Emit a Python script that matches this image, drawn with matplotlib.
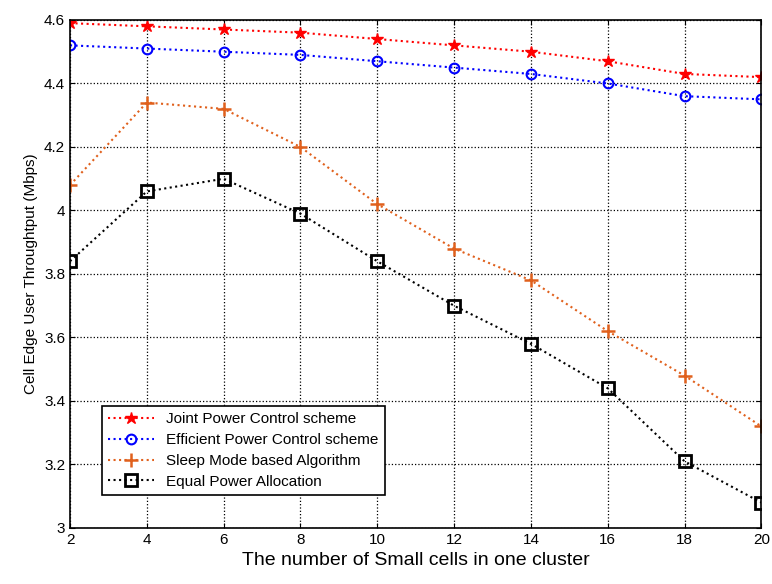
import matplotlib
matplotlib.use("Agg")
from matplotlib import pyplot as plt

plt.rcParams['font.family'] = ['Liberation Sans', 'DejaVu Sans']

x = [2, 4, 6, 8, 10, 12, 14, 16, 18, 20]
joint = [4.59, 4.58, 4.57, 4.56, 4.54, 4.52, 4.50, 4.47, 4.43, 4.42]
efficient = [4.52, 4.51, 4.50, 4.49, 4.47, 4.45, 4.43, 4.40, 4.36, 4.35]
sleep = [4.08, 4.34, 4.32, 4.20, 4.02, 3.88, 3.78, 3.62, 3.48, 3.32]
equal = [3.84, 4.06, 4.10, 3.99, 3.84, 3.70, 3.58, 3.44, 3.21, 3.08]
labels = ["Joint Power Control scheme", "Efficient Power Control scheme",
          "Sleep Mode based Algorithm", "Equal Power Allocation"]

fig = plt.figure(figsize=(7.72, 5.84), dpi=100)
ax = fig.add_axes([0.0907, 0.0959, 0.8955, 0.8699])

ax.plot(x, joint, ':', color='red', marker='*', ms=9, mfc='red', mec='red', lw=1.5, label=labels[0])
ax.plot(x, efficient, ':', color='blue', marker='o', ms=7, mfc='none', mec='blue', mew=1.5, lw=1.5, label=labels[1])
ax.plot(x, sleep, ':', color='#e0601c', marker='+', ms=10, mew=1.8, lw=1.5, label=labels[2])
ax.plot(x, equal, ':', color='black', marker='s', ms=8, mfc='none', mec='black', mew=2, lw=1.5, label=labels[3])

ax.set_xlim(2, 20)
ax.set_ylim(3, 4.6)
ax.set_xticks(range(2, 21, 2))
ax.set_yticks([3, 3.2, 3.4, 3.6, 3.8, 4, 4.2, 4.4, 4.6])
ax.set_yticklabels(['3', '3.2', '3.4', '3.6', '3.8', '4', '4.2', '4.4', '4.6'])
ax.tick_params(direction='in', labelsize=11, top=True, right=True)
ax.grid(True, linestyle=':', color='black', lw=0.9)
for s in ax.spines.values():
    s.set_linewidth(1.2)

ax.set_xlabel('The number of Small cells in one cluster', fontsize=14)
ax.set_ylabel('Cell Edge User Throughtput (Mbps)', fontsize=11)

leg = ax.legend(loc='lower left', bbox_to_anchor=(0.035, 0.05), fancybox=False,
                edgecolor='black', framealpha=1, handlelength=3, borderpad=0.4, labelspacing=0.45,
                prop={'size': 11})
leg.get_frame().set_linewidth(1.2)

fig.savefig('out.png', dpi=100)
